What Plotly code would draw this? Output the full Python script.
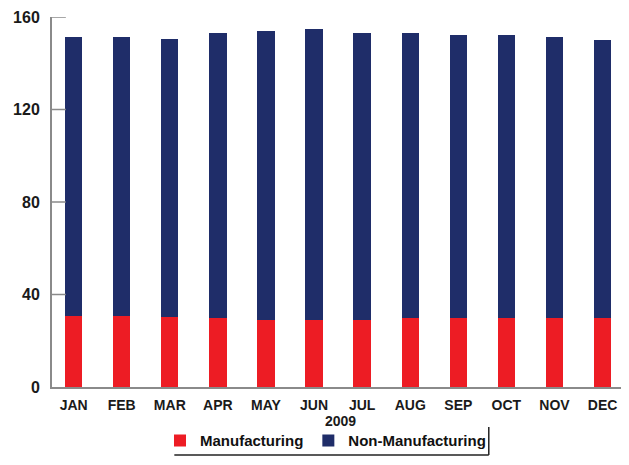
import plotly.graph_objects as go

months = ["JAN", "FEB", "MAR", "APR", "MAY", "JUN", "JUL", "AUG", "SEP", "OCT", "NOV", "DEC"]
manufacturing = [30.8, 30.8, 30.1, 29.7, 29.0, 29.0, 29.0, 29.7, 29.7, 29.7, 29.7, 29.7]
total = [151.5, 151.5, 150.5, 152.9, 154.1, 154.9, 152.9, 152.9, 152.3, 152.3, 151.5, 150.2]
non_manufacturing = [round(t - m, 1) for t, m in zip(total, manufacturing)]
x_title = "2009"
y_ticks = [0, 40, 80, 120, 160]

RED = "#ED1C24"
NAVY = "#1F2D69"
FONT = "Liberation Sans"

fig = go.Figure()
fig.add_trace(go.Bar(x=months, y=manufacturing, name="Manufacturing",
                     marker=dict(color=RED, line=dict(width=0)), width=0.36))
fig.add_trace(go.Bar(x=months, y=non_manufacturing, name="Non-Manufacturing",
                     marker=dict(color=NAVY, line=dict(width=0)), width=0.36))

# inside tick marks on the value axis, one per tick value
tick_shapes = [
    dict(type="line", xref="paper", yref="y", x0=0, x1=0.024, y0=v, y1=v,
         line=dict(color="#8a8a8a", width=1.5), layer="above")
    for v in y_ticks if v > 0
]

# page body keeps an 8px default margin, so the figure is sized to fill the rest
fig.update_layout(
    barmode="stack",
    width=621, height=457,
    margin=dict(l=44, r=0, t=9, b=78, autoexpand=False),
    paper_bgcolor="white", plot_bgcolor="white",
    font=dict(family=FONT, size=14, color="#222222"),
    showlegend=True,
    legend=dict(orientation="h", x=0.474, xanchor="center", y=-0.145, yanchor="middle",
                font=dict(family=FONT, size=15, color="#111111", weight="bold"),
                itemwidth=30, itemsizing="constant", traceorder="normal",
                bgcolor="rgba(0,0,0,0)"),
    xaxis=dict(
        automargin=False,
        showline=True, linecolor="#8a8a8a", linewidth=2,
        ticks="", showgrid=False,
        ticklabelstandoff=4,
        tickfont=dict(family=FONT, size=14, color="#1a1a1a", weight="bold"),
        title=dict(text=x_title, standoff=3,
                   font=dict(family=FONT, size=14, color="#1a1a1a", weight="bold")),
        range=[-0.45, 11.55],
    ),
    yaxis=dict(
        automargin=False,
        range=[0, 160], tickvals=y_ticks,
        showline=True, linecolor="#8a8a8a", linewidth=2,
        ticks="",
        showgrid=False, zeroline=False,
        ticklabelstandoff=7,
        tickfont=dict(family=FONT, size=16, color="#1a1a1a", weight="bold"),
    ),
    shapes=tick_shapes + [
        dict(type="line", xref="paper", yref="paper", x0=0.212, x1=0.757, y0=-0.184, y1=-0.184,
             line=dict(color="#222222", width=1.5)),
        dict(type="line", xref="paper", yref="paper", x0=0.757, x1=0.757, y0=-0.184, y1=-0.108,
             line=dict(color="#222222", width=1.5)),
    ],
)

fig.write_html("out.html")
